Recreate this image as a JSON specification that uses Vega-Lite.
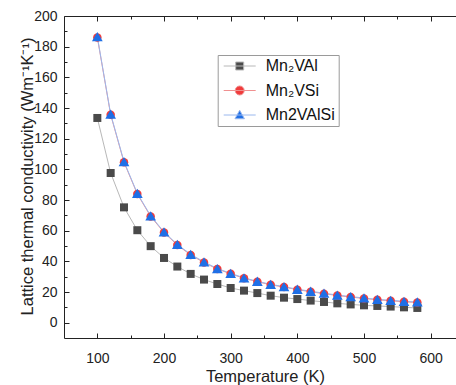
{
  "$schema": "https://vega.github.io/schema/vega-lite/v6.json",
  "width": 392,
  "height": 322,
  "autosize": {"type": "none"},
  "padding": {"left": 64, "top": 16, "right": 0, "bottom": 47},
  "background": "white",
  "config": {
    "view": {"stroke": null},
    "font": "Liberation Sans",
    "axis": {
      "grid": false,
      "domainColor": "#222",
      "tickColor": "#222",
      "labelColor": "#222",
      "titleColor": "#222",
      "labelFont": "Liberation Sans",
      "titleFont": "Liberation Sans",
      "labelFontSize": 14,
      "titleFontSize": 16.5,
      "titleFontWeight": "normal",
      "tickWidth": 1,
      "domainWidth": 1
    }
  },
  "data": {
    "values": [
      {"T": 100, "s": "Mn₂VAl", "k": 133.5}, {"T": 120, "s": "Mn₂VAl", "k": 97.6}, {"T": 140, "s": "Mn₂VAl", "k": 75.2},
      {"T": 160, "s": "Mn₂VAl", "k": 60.3}, {"T": 180, "s": "Mn₂VAl", "k": 49.9}, {"T": 200, "s": "Mn₂VAl", "k": 42.2},
      {"T": 220, "s": "Mn₂VAl", "k": 36.6}, {"T": 240, "s": "Mn₂VAl", "k": 31.8}, {"T": 260, "s": "Mn₂VAl", "k": 28.1},
      {"T": 280, "s": "Mn₂VAl", "k": 25.2}, {"T": 300, "s": "Mn₂VAl", "k": 22.6}, {"T": 320, "s": "Mn₂VAl", "k": 20.9},
      {"T": 340, "s": "Mn₂VAl", "k": 19.3}, {"T": 360, "s": "Mn₂VAl", "k": 17.6}, {"T": 380, "s": "Mn₂VAl", "k": 16.3},
      {"T": 400, "s": "Mn₂VAl", "k": 15.4}, {"T": 420, "s": "Mn₂VAl", "k": 14.4}, {"T": 440, "s": "Mn₂VAl", "k": 13.5},
      {"T": 460, "s": "Mn₂VAl", "k": 12.6}, {"T": 480, "s": "Mn₂VAl", "k": 11.9}, {"T": 500, "s": "Mn₂VAl", "k": 11.3},
      {"T": 520, "s": "Mn₂VAl", "k": 10.9}, {"T": 540, "s": "Mn₂VAl", "k": 10.5}, {"T": 560, "s": "Mn₂VAl", "k": 10.0},
      {"T": 580, "s": "Mn₂VAl", "k": 9.6},
      {"T": 100, "s": "Mn₂VSi", "k": 186.0}, {"T": 120, "s": "Mn₂VSi", "k": 135.6}, {"T": 140, "s": "Mn₂VSi", "k": 104.6},
      {"T": 160, "s": "Mn₂VSi", "k": 83.9}, {"T": 180, "s": "Mn₂VSi", "k": 69.3}, {"T": 200, "s": "Mn₂VSi", "k": 58.8},
      {"T": 220, "s": "Mn₂VSi", "k": 50.6}, {"T": 240, "s": "Mn₂VSi", "k": 44.2}, {"T": 260, "s": "Mn₂VSi", "k": 39.2},
      {"T": 280, "s": "Mn₂VSi", "k": 35.0}, {"T": 300, "s": "Mn₂VSi", "k": 31.9}, {"T": 320, "s": "Mn₂VSi", "k": 28.9},
      {"T": 340, "s": "Mn₂VSi", "k": 26.7}, {"T": 360, "s": "Mn₂VSi", "k": 24.7}, {"T": 380, "s": "Mn₂VSi", "k": 23.2},
      {"T": 400, "s": "Mn₂VSi", "k": 21.5}, {"T": 420, "s": "Mn₂VSi", "k": 20.2}, {"T": 440, "s": "Mn₂VSi", "k": 18.9},
      {"T": 460, "s": "Mn₂VSi", "k": 17.7}, {"T": 480, "s": "Mn₂VSi", "k": 16.7}, {"T": 500, "s": "Mn₂VSi", "k": 15.8},
      {"T": 520, "s": "Mn₂VSi", "k": 14.9}, {"T": 540, "s": "Mn₂VSi", "k": 14.3}, {"T": 560, "s": "Mn₂VSi", "k": 13.6},
      {"T": 580, "s": "Mn₂VSi", "k": 13.2},
      {"T": 100, "s": "Mn2VAlSi", "k": 186.5}, {"T": 120, "s": "Mn2VAlSi", "k": 136.0}, {"T": 140, "s": "Mn2VAlSi", "k": 105.0},
      {"T": 160, "s": "Mn2VAlSi", "k": 84.3}, {"T": 180, "s": "Mn2VAlSi", "k": 69.7}, {"T": 200, "s": "Mn2VAlSi", "k": 59.2},
      {"T": 220, "s": "Mn2VAlSi", "k": 51.0}, {"T": 240, "s": "Mn2VAlSi", "k": 44.6}, {"T": 260, "s": "Mn2VAlSi", "k": 39.6},
      {"T": 280, "s": "Mn2VAlSi", "k": 35.3}, {"T": 300, "s": "Mn2VAlSi", "k": 32.2}, {"T": 320, "s": "Mn2VAlSi", "k": 29.2},
      {"T": 340, "s": "Mn2VAlSi", "k": 27.0}, {"T": 360, "s": "Mn2VAlSi", "k": 25.0}, {"T": 380, "s": "Mn2VAlSi", "k": 23.5},
      {"T": 400, "s": "Mn2VAlSi", "k": 21.8}, {"T": 420, "s": "Mn2VAlSi", "k": 20.5}, {"T": 440, "s": "Mn2VAlSi", "k": 19.2},
      {"T": 460, "s": "Mn2VAlSi", "k": 18.0}, {"T": 480, "s": "Mn2VAlSi", "k": 17.0}, {"T": 500, "s": "Mn2VAlSi", "k": 16.1},
      {"T": 520, "s": "Mn2VAlSi", "k": 15.2}, {"T": 540, "s": "Mn2VAlSi", "k": 14.6}, {"T": 560, "s": "Mn2VAlSi", "k": 13.9},
      {"T": 580, "s": "Mn2VAlSi", "k": 13.5}
    ]
  },
  "resolve": {"scale": {"x": "shared", "y": "shared"}, "axis": {"x": "independent", "y": "independent"}},
  "layer": [
    {
      "mark": {"type": "line", "strokeWidth": 1},
      "encoding": {
        "x": {"field": "T", "type": "quantitative", "scale": {"domain": [50, 638], "nice": false, "zero": false},
          "axis": {"orient": "bottom", "values": [100, 200, 300, 400, 500, 600], "tickSize": -5, "labelPadding": 18,
            "title": "Temperature (K)", "titleX": 201, "titleY": 43.7, "titleBaseline": "alphabetic", "titleAlign": "center"}},
        "y": {"field": "k", "type": "quantitative", "scale": {"domain": [-10, 200], "nice": false, "zero": false},
          "axis": {"orient": "left", "values": [0, 20, 40, 60, 80, 100, 120, 140, 160, 180, 200], "tickSize": -5, "labelPadding": 12,
            "title": "Lattice thermal conductivity (Wm⁻¹K⁻¹)", "titleX": -32, "titleY": 160, "titleAngle": -90, "titleBaseline": "alphabetic", "titleAlign": "center"}},
        "stroke": {"field": "s", "type": "nominal",
          "scale": {"domain": ["Mn₂VAl", "Mn₂VSi", "Mn2VAlSi"], "range": ["#b8b8b8", "#f09090", "#9ab8ee"]},
          "legend": {
            "orient": "none", "legendX": 153.7, "legendY": 39, "title": null,
            "direction": "vertical", "columns": 1,
            "strokeColor": "#9a9a9a", "fillColor": "white", "padding": 3,
            "labelFont": "Liberation Sans", "labelFontSize": 16, "labelColor": "#111",
            "labelOffset": 29, "rowPadding": 8.5, "symbolSize": 100,
            "encode": {
              "symbols": {
                "update": {
                  "shape": {"signal": "['M-1,0H5.4M1.4,-0.8H3V0.8H1.4Z','M-1,0H5.4M1.3,0A0.9,0.9 0 1,0 3.1,0A0.9,0.9 0 1,0 1.3,0Z','M-1,0H5.4M2.2,-0.95L3.15,0.75H1.25Z'][datum.index]"},
                  "fill": {"signal": "['#4a4a4a','#f03c3c','#1f6fe6'][datum.index]"},
                  "stroke": {"signal": "['#b8b8b8','#f09090','#9ab8ee'][datum.index]"},
                  "strokeWidth": {"value": 1},
                  "opacity": {"value": 1},
                  "fillOpacity": {"value": 1}
                }
              }
            }
          }
        }
      }
    },
    {
      "transform": [{"filter": "datum.s === 'Mn₂VAl'"}],
      "mark": {"type": "point", "shape": "square", "filled": true, "size": 64, "fill": "#4a4a4a", "opacity": 1},
      "encoding": {
        "x": {"field": "T", "type": "quantitative",
          "axis": {"orient": "bottom", "values": [150, 250, 350, 450, 550], "tickSize": -3, "labels": false, "domain": false, "title": null}},
        "y": {"field": "k", "type": "quantitative",
          "axis": {"orient": "left", "values": [10, 30, 50, 70, 90, 110, 130, 150, 170, 190], "tickSize": -3, "labels": false, "domain": false, "title": null}}
      }
    },
    {
      "transform": [{"filter": "datum.s === 'Mn₂VSi'"}],
      "mark": {"type": "point", "shape": "circle", "filled": true, "size": 72, "fill": "#f03c3c", "opacity": 1},
      "encoding": {
        "x": {"field": "T", "type": "quantitative",
          "axis": {"orient": "top", "values": [100, 200, 300, 400, 500, 600], "tickSize": -5, "labels": false, "domain": true, "title": null}},
        "y": {"field": "k", "type": "quantitative", "axis": null}
      }
    },
    {
      "transform": [{"filter": "datum.s === 'Mn2VAlSi'"}],
      "mark": {"type": "point", "shape": "triangle-up", "filled": true, "size": 115, "fill": "#1f6fe6", "opacity": 1},
      "encoding": {
        "x": {"field": "T", "type": "quantitative",
          "axis": {"orient": "top", "values": [150, 250, 350, 450, 550], "tickSize": -3, "labels": false, "domain": false, "title": null}},
        "y": {"field": "k", "type": "quantitative", "axis": null}
      }
    }
  ]
}
